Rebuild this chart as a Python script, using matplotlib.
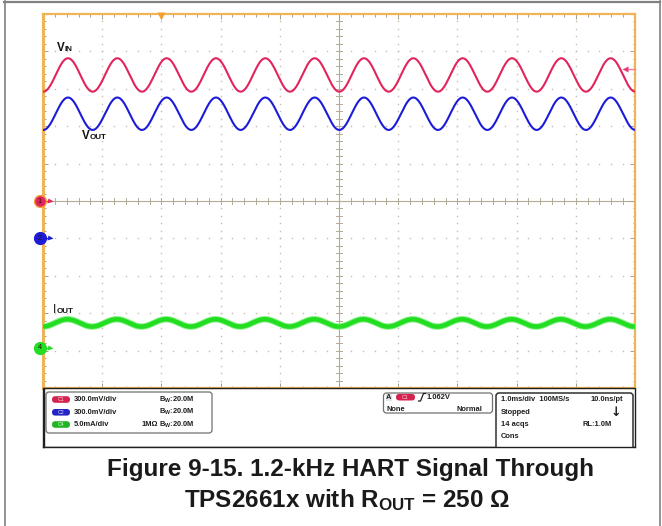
import numpy as np
import matplotlib
matplotlib.use("Agg")
import matplotlib.pyplot as plt
from matplotlib.patches import FancyBboxPatch, Rectangle
from matplotlib.transforms import blended_transform_factory

plt.rcParams['font.family'] = ['Liberation Sans', 'DejaVu Sans']
plt.rcParams['mathtext.fontset'] = 'custom'
plt.rcParams['mathtext.rm'] = 'Liberation Sans:bold'
plt.rcParams['mathtext.it'] = 'Liberation Sans:bold'
plt.rcParams['mathtext.bf'] = 'Liberation Sans:bold'

time_window_ms = [-2.0, 8.0]            # 1.0 ms/div, 10 div, trigger 2 div from left
vert_window_div = [-5.0, 5.0]
channel_labels = ["1", "2", "4"]
channel_scale = [0.3, 0.3, 5.0]          # V/div, V/div, mA/div
channel_offset_div = [0.0, -1.0, -3.93]  # ground-reference markers
signal_freq_khz = [1.2, 1.2, 1.2]
signal_mean = [1.011, 1.000, 3.35]       # V, V, mA
signal_ampl = [0.134, 0.130, 0.49]       # V, V, mA
first_peak_ms = [0.089, 0.089, 0.080]
trigger_level_v = 1.062
trace_colors = ["#e2245c", "#1c1cd8", "#22dd22"]

settings_rows = [("C1", "300.0mV/div", "", "B$_\\mathrm{W}$:20.0M"),
                 ("C2", "300.0mV/div", "", "B$_\\mathrm{W}$:20.0M"),
                 ("C4", "5.0mA/div", "1MΩ", "B$_\\mathrm{W}$:20.0M")]
pill_colors = ["#d4234f", "#2424c4", "#22b422"]

W, H = 662, 526
fig = plt.figure(figsize=(W / 100, H / 100), dpi=100)
fig.patch.set_facecolor("white")

L, T, R, B = 43, 14, 635, 388
ax = fig.add_axes([L / W, 1 - B / H, (R - L) / W, (B - T) / H])
ax.set_xlim(*time_window_ms)
ax.set_ylim(*vert_window_div)
frame_col = "#f0b458"
for s in ax.spines.values():
    s.set_color(frame_col)
    s.set_linewidth(1.6)
ax.spines['left'].set_linewidth(2.2)

ax.set_xticks(np.arange(-2, 8.01, 1))
ax.set_yticks(np.arange(-5, 5.01, 1))
ax.set_xticks(np.arange(-2, 8.01, 0.2), minor=True)
ax.set_yticks(np.arange(-5, 5.01, 0.2), minor=True)
ax.tick_params(which='both', direction='in', top=True, right=True,
               labelbottom=False, labelleft=False, color="#a89e8c", width=0.7)
ax.tick_params(which='major', length=3.4)
ax.tick_params(which='minor', length=1.8)

grid_col = "#c4bcae"
xc = (time_window_ms[0] + time_window_ms[1]) / 2
for xv in np.arange(-1, 8, 1):
    if abs(xv - xc) < 1e-9:
        continue
    ys = np.arange(-5, 5.01, 0.2)
    ax.plot(np.full_like(ys, xv), ys, ls='none', marker='s', ms=1.0, mfc=grid_col, mec='none', zorder=1)
for yv in np.arange(-4, 5, 1):
    if yv == 0:
        continue
    xs = np.arange(-2, 8.01, 0.2)
    ax.plot(xs, np.full_like(xs, yv), ls='none', marker='s', ms=1.0, mfc=grid_col, mec='none', zorder=1)

center_col = "#b4aa98"
ax.axhline(0, color=center_col, lw=0.8, zorder=1)
ax.axvline(xc, color=center_col, lw=0.8, zorder=1)
for xv in np.arange(-2, 8.01, 0.2):
    ax.plot([xv, xv], [-0.08, 0.08], color=center_col, lw=0.7, zorder=1)
for yv in np.arange(-5, 5.01, 0.2):
    ax.plot([xc - 0.05, xc + 0.05], [yv, yv], color=center_col, lw=0.7, zorder=1)

# traces
t = np.linspace(time_window_ms[0], time_window_ms[1], 4001)
widths = [1.5, 1.5, 3.2]
for i in range(3):
    val = signal_mean[i] + signal_ampl[i] * np.cos(2 * np.pi * signal_freq_khz[i] * (t - first_peak_ms[i]))
    ydiv = val / channel_scale[i] + channel_offset_div[i]
    if i == 2:
        ax.plot(t, ydiv, color="#86f286", lw=widths[i] + 1.4, zorder=3, solid_capstyle='butt')
    ax.plot(t, ydiv, color=trace_colors[i], lw=widths[i], zorder=4, solid_capstyle='butt')

# channel ground markers
tr = blended_transform_factory(ax.transAxes, ax.transData)
mx = -3.5 / (R - L)
for i in range(3):
    y0 = channel_offset_div[i]
    ax.plot([mx, 7.5 / (R - L)], [y0, y0], color=trace_colors[i], lw=0.9, transform=tr, clip_on=False, zorder=5)
    ax.plot(7.0 / (R - L), y0, marker='>', ms=3.6, color=trace_colors[i], mec='none', transform=tr, clip_on=False, zorder=5)
    ax.plot(mx, y0, marker='o', ms=8.5, mfc=trace_colors[i],
            mec=("#f39a3a" if i == 0 else trace_colors[i]), mew=1.0,
            transform=tr, clip_on=False, zorder=6)
    ax.text(mx, y0, channel_labels[i], transform=tr, ha='center', va='center',
            fontsize=5.2, color="#301010", zorder=7, clip_on=False)

# trigger position marker (top) and trigger level arrow (right)
ax.plot(0, 5 - 2.3 / 37.4, marker='v', ms=5.5, color="#f2a030", mec='none', clip_on=False, zorder=6)
trig_div = trigger_level_v / channel_scale[0] + channel_offset_div[0]
ax.plot([8 - 9 / 59.2, 8], [trig_div, trig_div], color="#f27aa0", lw=1.0, clip_on=False, zorder=6)
ax.plot(8 - 10 / 59.2, trig_div, marker='<', ms=4, color="#f03a78", mec='none', clip_on=False, zorder=6)

# ---------------- overlay in pixel coordinates ----------------
ov = fig.add_axes([0, 0, 1, 1], zorder=5)
ov.set_xlim(0, W)
ov.set_ylim(H, 0)
ov.axis('off')
ov.patch.set_alpha(0)

border = "#808080"
ov.plot([4, 660], [1.5, 1.5], color=border, lw=1.6)
ov.plot([4.5, 4.5], [1, H], color=border, lw=1.2)
ov.plot([659.5, 659.5], [1, H], color=border, lw=1.2)

# trace labels
lab = dict(color="#111111", fontweight='bold', va='baseline', ha='left')
ov.text(56.5, 50.7, "V", fontsize=8.4, **lab)
ov.text(64.3, 50.7, "IN", fontsize=5.8, **lab)
ov.text(81.5, 139.3, "V", fontsize=8.4, **lab)
ov.text(89.3, 139.3, "OUT", fontsize=5.8, **lab)
ov.text(53.0, 313.3, "I", fontsize=8.4, color="#111111", va='baseline', ha='left')
ov.text(56.5, 313.3, "OUT", fontsize=5.8, **lab)

# info panel
ov.add_patch(Rectangle((43, 388), 592, 59, fill=False, ec="#202020", lw=1.0))
box_ec = "#707070"
ov.add_patch(FancyBboxPatch((46, 392), 166, 41, boxstyle="round,pad=0,rounding_size=3",
                            fc="white", ec=box_ec, lw=0.9))
ov.add_patch(FancyBboxPatch((383.5, 393), 109, 20, boxstyle="round,pad=0,rounding_size=3",
                            fc="white", ec=box_ec, lw=0.9))
ov.add_patch(FancyBboxPatch((496, 393), 137, 60, boxstyle="round,pad=0,rounding_size=3",
                            fc="white", ec="#303030", lw=1.1))
ov.add_patch(Rectangle((43.6, 447.6), 591, 8, fc="white", ec="none"))
ov.plot([43, 635], [447, 447], color="#202020", lw=1.0)
ov.plot([43.5, 43.5], [388, 447], color="#202020", lw=1.0)

info = dict(fontsize=5.4, color="#1e1e1e", fontweight='bold', va='center')
rows_y = [399.5, 412.3, 424.5]
for (tag, scale, imp, bw), pc, yy in zip(settings_rows, pill_colors, rows_y):
    ov.add_patch(FancyBboxPatch((52, yy - 3.3), 18, 6.6, boxstyle="round,pad=0,rounding_size=3.3",
                                fc=pc, ec="none"))
    ov.text(61, yy, tag, ha='center', fontsize=3.8, color="#ffd0d0" if tag == "C1" else "#d8e0ff" if tag == "C2" else "#d0ffd0", va='center')
    ov.text(73.5, yy, scale, ha='left', **info)
    if imp:
        ov.text(142, yy, imp, ha='left', **info)
    ov.text(159, yy, bw, ha='left', **info)

ov.add_patch(Rectangle((385.5, 393.5), 6.5, 7, fc="#e4e4e4", ec="none"))
ov.text(388.8, 397.2, "A", ha='center', **info)
ov.add_patch(FancyBboxPatch((396, 393.9), 19, 6.6, boxstyle="round,pad=0,rounding_size=3.3",
                            fc=pill_colors[0], ec="none"))
ov.text(405.5, 397.2, "C1", ha='center', fontsize=3.8, color="#ffd0d0", va='center')
ov.plot([418.5, 420.5, 423.5, 425.5], [401, 401, 393.5, 393.5], color="#1e1e1e", lw=0.9)
ov.text(427, 397.2, "1.062V", ha='left', **info)
ov.text(386.5, 409.3, "None", ha='left', **info)
ov.text(482, 409.3, "Normal", ha='right', **info)

ov.text(501, 399.5, "1.0ms/div  100MS/s", ha='left', **info)
ov.text(623, 399.5, "10.0ns/pt", ha='right', **info)
ov.text(501, 412.3, "Stopped", ha='left', **info)
ov.text(616, 412.5, "↓", ha='center', va='center', fontsize=9, fontweight='bold',
        color="#1e1e1e", family=['DejaVu Sans'])
ov.text(501, 424.5, "14 acqs", ha='left', **info)
ov.text(611.5, 424.5, "RL:1.0M", ha='right', **info)
ov.text(501, 436.5, "Cons", ha='left', **info)

# caption
cap = dict(fontsize=17.5, fontweight='bold', color="#1a1a1a", ha='center', va='center')
ov.text(350.5, 469.5, "Figure 9-15. 1.2-kHz HART Signal Through", **cap)
ov.text(347, 500, "TPS2661x with R$_{\\mathrm{OUT}}$ = 250 Ω", **cap)

fig.savefig("out.png", dpi=100, facecolor="white")
